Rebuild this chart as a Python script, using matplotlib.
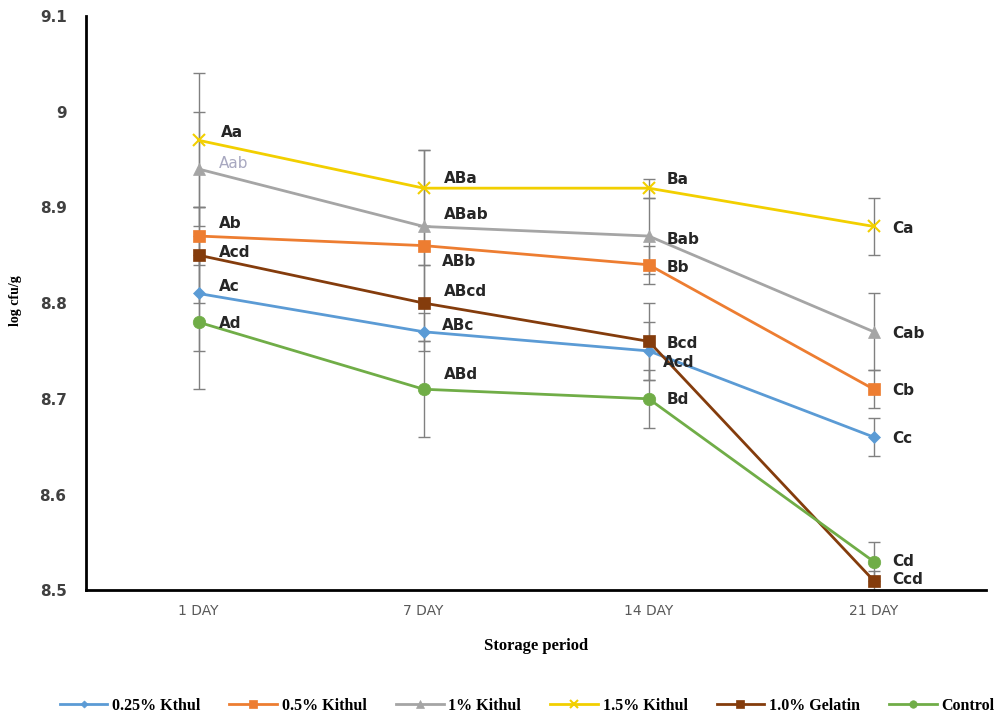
import matplotlib
matplotlib.use("Agg")
import matplotlib.pyplot as plt
import numpy as np

days = ["1 DAY", "7 DAY", "14 DAY", "21 DAY"]
series_names = ["0.25% Kthul", "0.5% Kithul", "1% Kithul", "1.5% Kithul", "1.0% Gelatin", "Control"]

kthul_025 = [8.81, 8.77, 8.75, 8.66]
kithul_05 = [8.87, 8.86, 8.84, 8.71]
kithul_1 = [8.94, 8.88, 8.87, 8.77]
kithul_15 = [8.97, 8.92, 8.92, 8.88]
gelatin_1 = [8.85, 8.80, 8.76, 8.51]
control = [8.78, 8.71, 8.70, 8.53]

err_025 = [0.06, 0.02, 0.03, 0.02]
err_05 = [0.03, 0.02, 0.02, 0.02]
err_1 = [0.06, 0.08, 0.04, 0.04]
err_15 = [0.07, 0.04, 0.01, 0.03]
err_gel = [0.05, 0.04, 0.04, 0.01]
err_ctrl = [0.07, 0.05, 0.03, 0.02]

lab_025 = ["Ac", "ABc", "Acd", "Cc"]
lab_05 = ["Ab", "ABb", "Bb", "Cb"]
lab_1 = ["Aab", "ABab", "Bab", "Cab"]
lab_15 = ["Aa", "ABa", "Ba", "Ca"]
lab_gel = ["Acd", "ABcd", "Bcd", "Ccd"]
lab_ctrl = ["Ad", "ABd", "Bd", "Cd"]

values = [kthul_025, kithul_05, kithul_1, kithul_15, gelatin_1, control]
errors = [err_025, err_05, err_1, err_15, err_gel, err_ctrl]
labels = [lab_025, lab_05, lab_1, lab_15, lab_gel, lab_ctrl]

colors = ["#5B9BD5", "#ED7D31", "#A5A5A5", "#F2CF00", "#843C0C", "#70AD47"]
markers = ["D", "s", "^", "x", "s", "o"]
msizes = [6, 9, 9, 9, 9, 9]

# label offsets in pixels (dx, dy) for each series / day
offsets = [
    [(20, 7), (18, 6), (14, -12), (18, -1)],
    [(20, 13), (18, -16), (18, -3), (18, -1)],
    [(20, 6), (20, 12), (18, -3), (18, -2)],
    [(22, 8), (20, 10), (18, 9), (18, -2)],
    [(20, 3), (20, 12), (18, -2), (18, 1)],
    [(20, -1), (20, 15), (18, -1), (18, 0)],
]

fig = plt.figure(figsize=(9.97, 7.19), dpi=100)
ax = fig.add_axes([0.0863, 0.179, 0.903, 0.799])

x = np.arange(len(days))

for v, e in zip(values, errors):
    ax.errorbar(x, v, yerr=e, fmt="none", ecolor="#808080", elinewidth=1,
                capsize=4, capthick=1, zorder=1)

for i, (v, name) in enumerate(zip(values, series_names)):
    mew = 1.5 if markers[i] == "x" else 0.5
    ax.plot(x, v, color=colors[i], lw=2, marker=markers[i], ms=msizes[i],
            mew=mew, mec=colors[i], label=name, zorder=3)

for i, v in enumerate(values):
    for j in range(len(days)):
        if labels[i][j] == "Aab":
            tc, fw = "#A8A8C0", "normal"
        else:
            tc, fw = "#262626", "bold"
        ax.annotate(labels[i][j], (x[j], v[j]), xytext=offsets[i][j],
                    textcoords="offset pixels", fontsize=11, fontweight=fw,
                    color=tc, ha="left", va="center", zorder=4)

ax.set_xlim(-0.5, 3.5)
ax.set_ylim(8.5, 9.1)
yt = [8.5, 8.6, 8.7, 8.8, 8.9, 9.0, 9.1]
ax.set_yticks(yt)
ax.set_yticklabels(["8.5", "8.6", "8.7", "8.8", "8.9", "9", "9.1"],
                   fontsize=11, fontweight="bold", color="#404040")
ax.set_xticks(x)
ax.set_xticklabels(days, fontsize=10, color="#595959")
ax.tick_params(axis="both", length=0)
ax.tick_params(axis="y", pad=14)
ax.tick_params(axis="x", pad=10)

for s in ["top", "right"]:
    ax.spines[s].set_visible(False)
for s in ["left", "bottom"]:
    ax.spines[s].set_linewidth(2)
    ax.spines[s].set_color("black")

ax.set_ylabel("log cfu/g", family="Liberation Serif", fontweight="bold",
              fontsize=10)
ax.yaxis.set_label_coords(-0.071, 0.505)
ax.set_xlabel("Storage period", family="Liberation Serif", fontweight="bold",
              fontsize=12, labelpad=14)

ax.legend(loc="upper center", bbox_to_anchor=(0.49, -0.162), ncol=6,
          frameon=False, handlelength=3.0, columnspacing=1.8, handletextpad=0.3,
          prop={"family": "Liberation Serif", "weight": "bold", "size": 11.5},
          markerscale=0.6)

fig.savefig("out.png", dpi=100)
